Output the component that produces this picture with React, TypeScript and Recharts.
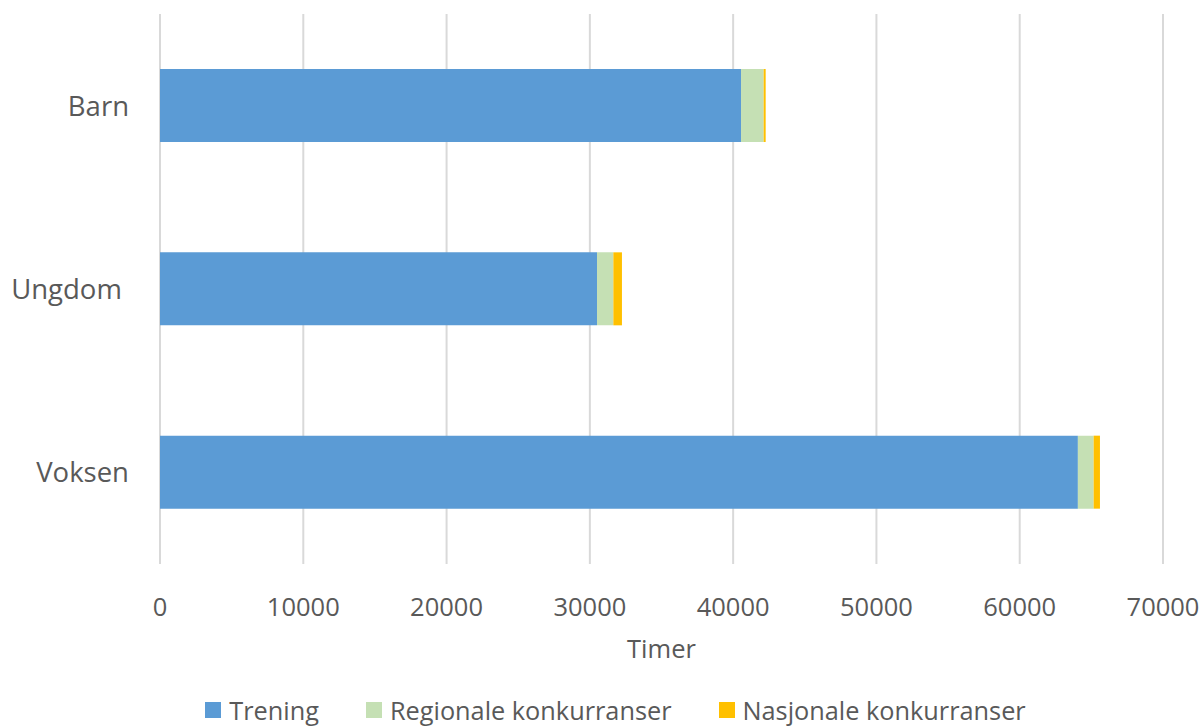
import { Bar, BarChart, CartesianGrid, Legend, XAxis, YAxis } from "recharts";

const CATEGORIES = ["Barn", "Ungdom ", "Voksen"];
const TRENING = [40550, 30500, 64060];
const REGIONALE = [1580, 1140, 1100];
const NASJONALE = [140, 600, 440];
const X_TICKS = [0, 10000, 20000, 30000, 40000, 50000, 60000, 70000];

const SERIES = [
  { key: "trening", name: "Trening", color: "#5B9BD5" },
  { key: "regionale", name: "Regionale konkurranser", color: "#C5E0B4" },
  { key: "nasjonale", name: "Nasjonale konkurranser", color: "#FFC000" },
];

const TEXT = "#595959";
const FONT = "'Open Sans', sans-serif";

const data = CATEGORIES.map((c, i) => ({
  name: c,
  trening: TRENING[i],
  regionale: REGIONALE[i],
  nasjonale: NASJONALE[i],
}));

function XTick(props: any) {
  const { x, y, payload } = props;
  return (
    <text x={x} y={y + 50} textAnchor="middle" fill={TEXT} fontSize={25.5} fontFamily={FONT}>
      {payload.value}
    </text>
  );
}

function YTick(props: any) {
  const { x, y, payload } = props;
  return (
    <text
      x={x - 29}
      y={y + 10}
      textAnchor="end"
      fill={TEXT}
      fontSize={27.5}
      fontFamily={FONT}
      style={{ whiteSpace: "pre" }}
    >
      {payload.value}
    </text>
  );
}

function LegendContent() {
  return (
    <div
      style={{
        display: "flex",
        justifyContent: "center",
        fontFamily: FONT,
        fontSize: 25.3,
        color: TEXT,
        height: 32,
        lineHeight: "32px",
        paddingLeft: 68,
      }}
    >
      {SERIES.map((s, i) => (
        <div
          key={s.key}
          style={{ display: "flex", alignItems: "center", marginRight: i < SERIES.length - 1 ? 47 : 0 }}
        >
          <span style={{ width: 16, height: 16, background: s.color, marginRight: 8, display: "inline-block" }} />
          <span>{s.name}</span>
        </div>
      ))}
    </div>
  );
}

export default function App() {
  return (
    <div style={{ position: "absolute", left: 0, top: 0, background: "#fff" }}>
      <BarChart
        width={1203}
        height={726}
        data={data}
        layout="vertical"
        margin={{ top: 14, right: 40, bottom: 0, left: 0 }}
        barCategoryGap="30%"
      >
        <CartesianGrid horizontal={false} stroke="#d9d9d9" strokeWidth={2} />
        <XAxis
          type="number"
          domain={[0, 70000]}
          ticks={X_TICKS}
          axisLine={false}
          tickLine={false}
          tickSize={0}
          height={130}
          tick={<XTick />}
          label={{ value: "Timer", position: "insideBottom", offset: 36, fill: TEXT, fontSize: 25.5, fontFamily: FONT }}
        />
        <YAxis
          type="category"
          dataKey="name"
          width={160}
          axisLine={false}
          tickLine={false}
          tickSize={0}
          tick={<YTick />}
        />
        {SERIES.map((s) => (
          <Bar key={s.key} dataKey={s.key} name={s.name} stackId="a" fill={s.color} isAnimationActive={false} />
        ))}
        <Legend verticalAlign="bottom" height={32} content={<LegendContent />} />
      </BarChart>
    </div>
  );
}
